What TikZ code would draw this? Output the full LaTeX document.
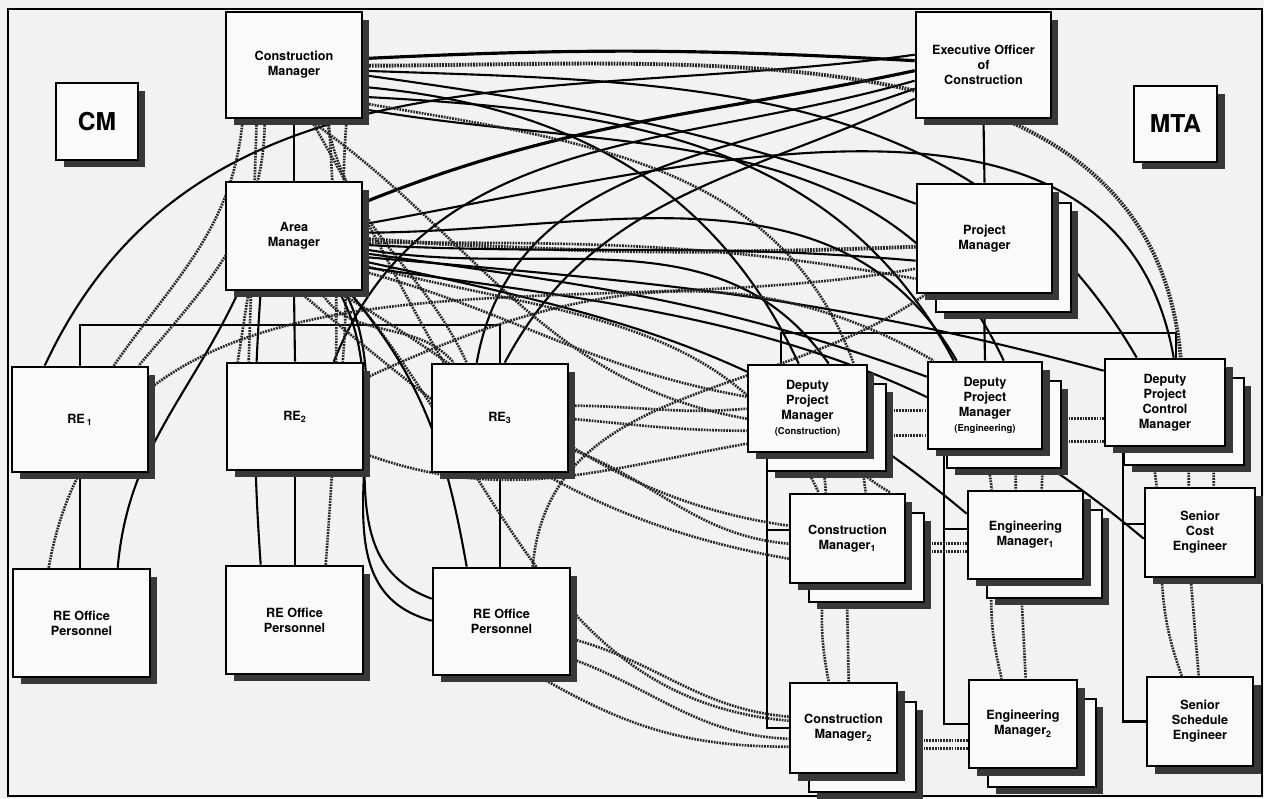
\documentclass[tikz,border=0pt]{standalone}
\usepackage{fontspec}
\setsansfont{TeX Gyre Heros}
\usetikzlibrary{shadows,backgrounds}
\newcommand{\orgfont}{\sffamily\bfseries\fontsize{7.2}{8.6}\selectfont}
\newcommand{\bigorgfont}{\sffamily\bfseries\fontsize{14}{16}\selectfont}
\newcommand{\smallorgfont}{\fontsize{5.4}{7}\selectfont}
\begin{document}
\begin{tikzpicture}[x=0.02cm, y=0.02cm,
    box/.style={draw, line width=1.5pt, fill=black!2, align=center, font=\orgfont, inner sep=1pt,
      drop shadow={shadow xshift=0.15cm, shadow yshift=-0.15cm, fill=black!78, opacity=1}},
    stackbox/.style={draw, line width=1.5pt, fill=black!2, align=center, font=\orgfont, inner sep=1pt,
      drop shadow={shadow xshift=0.53cm, shadow yshift=-0.53cm, fill=black!78, opacity=1},
      copy shadow={shadow xshift=0.38cm, shadow yshift=-0.38cm, draw=black, line width=1.5pt, fill=black!2, opacity=1},
      drop shadow={shadow xshift=0.15cm, shadow yshift=-0.15cm, fill=black!78, opacity=1}},
    tree/.style={line width=1.2pt},
    link/.style={line width=1.2pt},
    dotlink/.style={line width=1.5pt, black!85, dash pattern=on 1pt off 0.6pt}]

    % CM side
    \node[box, font=\bigorgfont, minimum width=1.64cm, minimum height=1.54cm] (cm) at (97,-121.5) {CM};
    \node[box, minimum width=2.72cm, minimum height=2.12cm] (conmgr) at (294,-65) {Construction\\Manager};
    \node[box, minimum width=2.72cm, minimum height=2.16cm] (areamgr) at (294,-236) {Area\\Manager};
    \node[box, minimum width=2.72cm, minimum height=2.10cm] (re1) at (80,-419.5) {RE\,\textsubscript{1}};
    \node[box, minimum width=2.72cm, minimum height=2.14cm] (re2) at (295,-416.5) {RE\textsubscript{2}};
    \node[box, minimum width=2.72cm, minimum height=2.16cm] (re3) at (500,-418) {RE\textsubscript{3}};
    \node[box, minimum width=2.74cm, minimum height=2.16cm] (reop1) at (81.5,-623) {RE Office\\Personnel};
    \node[box, minimum width=2.74cm, minimum height=2.16cm] (reop2) at (294.5,-620) {RE Office\\Personnel};
    \node[box, minimum width=2.74cm, minimum height=2.14cm] (reop3) at (501.5,-621.5) {RE Office\\Personnel};

    % MTA side
    \node[box, minimum width=2.70cm, minimum height=2.12cm] (exec) at (983.5,-65) {Executive Officer\\of\\Construction};
    \node[box, font=\bigorgfont, minimum width=1.66cm, minimum height=1.52cm] (mta) at (1175.5,-124) {MTA};
    \node[stackbox, minimum width=2.70cm, minimum height=2.18cm] (pm) at (984.5,-238.5) {Project\\Manager};
    \node[stackbox, minimum width=2.38cm, minimum height=1.74cm] (dpmc) at (807.5,-408.5) {Deputy\\Project\\Manager\\{\smallorgfont (Construction)}};
    \node[stackbox, minimum width=2.28cm, minimum height=1.74cm] (dpme) at (985,-405.5) {Deputy\\Project\\Manager\\{\smallorgfont (Engineering)}};
    \node[stackbox, minimum width=2.40cm, minimum height=1.74cm] (dpcm) at (1165,-402.5) {Deputy\\Project\\Control\\Manager};
    \node[stackbox, minimum width=2.30cm, minimum height=1.78cm] (cm1) at (847.5,-538.5) {Construction\\Manager\textsubscript{1}};
    \node[stackbox, minimum width=2.14cm, minimum height=1.80cm] (cm2) at (843.5,-728) {Construction\\Manager\textsubscript{2}};
    \node[stackbox, minimum width=2.30cm, minimum height=1.76cm] (em1) at (1025.5,-535) {Engineering\\Manager\textsubscript{1}};
    \node[stackbox, minimum width=2.16cm, minimum height=1.76cm] (em2) at (1023,-724) {Engineering\\Manager\textsubscript{2}};
    \node[box, minimum width=2.20cm, minimum height=1.78cm] (sce) at (1200,-532.5) {Senior\\Cost\\Engineer};
    \node[box, minimum width=2.12cm, minimum height=1.78cm] (sse) at (1200,-721.5) {Senior\\Schedule\\Engineer};

    \coordinate (rebus) at (294,-325);
    \coordinate (dpbus) at (984.5,-333);

    \begin{pgfonlayer}{background}
    \fill[black!5] (0,0) rectangle (1264,-798);
    \draw[line width=1.2pt] (8,-9) rectangle (1262,-796);

    % reporting lines
    \draw[tree] (conmgr.south) -- (areamgr.north);
    \draw[tree] (areamgr.south) -- (re2.north);
    \draw[tree] (re1.north) |- (rebus) -| (re3.north);
    \draw[tree] (re1.south) -- (re1.south |- reop1.north);
    \draw[tree] (re2.south) -- (re2.south |- reop2.north);
    \draw[tree] (re3.south) -- (re3.south |- reop3.north);
    \draw[tree] (exec.south) -- (pm.north);
    \draw[tree] (pm.south) -- (dpbus) -- (dpme.north);
    \draw[tree] ([shift={(34,0)}]dpmc.north west) |- (dpbus) -| ([shift={(72,0)}]dpcm.north west);
    \draw[tree] ([shift={(20,0)}]dpmc.south west) |- (cm2.west);
    \draw[tree] ([shift={(0,-37)}]cm1.north west) -| ([shift={(20,0)}]dpmc.south west);
    \draw[tree] ([shift={(17,0)}]dpme.south west) |- (em2.west);
    \draw[tree] ([shift={(0,-39)}]em1.north west) -| ([shift={(17,0)}]dpme.south west);
    \draw[tree] ([shift={(19,0)}]dpcm.south west) |- (sse.west);
    \draw[tree] ([shift={(0,-37)}]sce.north west) -| ([shift={(19,0)}]dpcm.south west);

    % links to the Executive Officer
    \draw[link] ([shift={(34,0)}]re1.north west) to[out=65,in=188] ([shift={(0,-44)}]exec.north west);
    \draw[link, line width=1.8pt] ([shift={(136,-23)}]areamgr.north west) to[out=22,in=192] ([shift={(0,-60)}]exec.north west);
    \draw[link] ([shift={(108,0)}]re2.north west) to[out=68,in=196] ([shift={(0,-70)}]exec.north west);
    \draw[link] ([shift={(46,0)}]re3.north west) to[out=80,in=200] ([shift={(0,-78)}]exec.north west);
    \draw[link] ([shift={(74,0)}]re3.north west) to[out=62,in=205] ([shift={(0,-88)}]exec.north west);
    \draw[link, line width=1.8pt] ([shift={(136,-48)}]conmgr.north west) to[bend left=3] ([shift={(0,-50)}]exec.north west);

    % links from the Construction Manager
    \draw[link] ([shift={(136,-64)}]conmgr.north west) to[out=-8,in=160] ([shift={(0,-21)}]pm.north west);
    \draw[link] ([shift={(136,-76)}]conmgr.north west) to[out=-5,in=115] ([shift={(52,0)}]dpmc.north west);
    \draw[link] ([shift={(136,-86)}]conmgr.north west) to[out=-3,in=118] ([shift={(27,0)}]dpme.north west);
    \draw[link] ([shift={(136,-98)}]conmgr.north west) to[out=-10,in=115] ([shift={(77,0)}]dpme.north west);
    \draw[link] ([shift={(136,-60)}]conmgr.north west) to[out=-2,in=120] ([shift={(33,0)}]dpcm.north west);
    \draw[dotlink, line width=2.2pt] ([shift={(136,-55)}]conmgr.north west) to[out=0,in=95] ([shift={(77,0)}]dpcm.north west);
    \draw[dotlink] ([shift={(136,-92)}]conmgr.north west) to[out=-10,in=110] ([shift={(107,0)}]dpmc.north west);
    \draw[dotlink] ([shift={(18,0)}]conmgr.south west) to[out=-95,in=55] ([shift={(103,0)}]re1.north west);
    \draw[dotlink] ([shift={(32,0)}]conmgr.south west) -- ([shift={(23,0)}]re2.north west);
    \draw[dotlink] ([shift={(40,0)}]conmgr.south west) to[out=-90,in=50] ([shift={(128,0)}]re1.north west);
    \draw[dotlink] ([shift={(86,0)}]conmgr.south west) to[out=-60,in=120] ([shift={(13,0)}]re3.north west);
    \draw[dotlink] ([shift={(102,0)}]conmgr.south west) to[out=-80,in=115] ([shift={(36,0)}]re3.north west);
    \draw[dotlink] ([shift={(122,0)}]conmgr.south west) to[out=-95,in=85] ([shift={(117,0)}]re2.north west);
    \draw[dotlink] ([shift={(84,0)}]conmgr.south west) to[out=-35,in=170] ([shift={(0,-55)}]dpmc.north west);

    % links from the Area Manager
    \draw[dotlink, line width=2.2pt] ([shift={(136,-58)}]areamgr.north west) to[bend right=3] ([shift={(0,-64)}]pm.north west);
    \draw[link] ([shift={(136,-64)}]areamgr.north west) to[out=-3,in=175] ([shift={(0,-78)}]pm.north west);
    \draw[link] ([shift={(136,-68)}]areamgr.north west) to[out=-10,in=125] ([shift={(82,0)}]dpmc.north west);
    \draw[link] ([shift={(136,-72)}]areamgr.north west) to[out=-8,in=160] ([shift={(0,-16)}]dpme.north west);
    \draw[link] ([shift={(136,-76)}]areamgr.north west) to[out=-5,in=165] ([shift={(0,-13)}]dpcm.north west);
    \draw[dotlink] ([shift={(136,-84)}]areamgr.north west) to[out=-15,in=115] ([shift={(30,0)}]cm1.north west);
    \draw[dotlink] ([shift={(136,-62)}]areamgr.north west) to[out=0,in=170] ([shift={(0,-96)}]pm.north west);
    \draw[dotlink] ([shift={(136,-90)}]areamgr.north west) to[out=-15,in=170] ([shift={(0,-33)}]dpmc.north west);
    \draw[link] ([shift={(136,-44)}]areamgr.north west) to[out=10,in=100] ([shift={(70,0)}]dpcm.north west);
    \draw[link] ([shift={(136,-80)}]areamgr.north west) to[out=-12,in=140] ([shift={(0,-24)}]em1.north west);
    \draw[link] ([shift={(136,-86)}]areamgr.north west) to[out=-8,in=140] ([shift={(0,-52)}]sce.north west);
    \draw[link] ([shift={(136,-52)}]areamgr.north west) to[out=0,in=120] ([shift={(30,0)}]dpme.north west);
    \draw[dotlink] ([shift={(24,0)}]areamgr.south west) -- ([shift={(12,0)}]re2.north west);
    \draw[dotlink] ([shift={(96,0)}]areamgr.south west) to[out=-60,in=130] ([shift={(23,0)}]re3.north west);
    \draw[dotlink] ([shift={(124,0)}]areamgr.south west) to[out=-50,in=175] ([shift={(0,-39)}]cm2.north west);
    \draw[link] ([shift={(114,0)}]areamgr.south west) to[out=-60,in=160] ([shift={(0,-32)}]reop3.north west);
    \draw[link] ([shift={(120,0)}]areamgr.south west) to[out=-62,in=165] ([shift={(0,-54)}]reop3.north west);
    \draw[dotlink] ([shift={(74,0)}]areamgr.south west) to[out=-40,in=170] ([shift={(0,-66)}]cm1.north west);
    \draw[dotlink] ([shift={(112,0)}]areamgr.south west) to[out=-30,in=172] ([shift={(0,-33)}]cm1.north west);

    % links from the field offices
    \draw[dotlink] ([shift={(0,-43)}]re3.north east) to[out=0,in=185] ([shift={(0,-45)}]dpmc.north west);
    \draw[dotlink] ([shift={(0,-56)}]re3.north east) to[out=-5,in=180] ([shift={(0,-67)}]dpmc.north west);
    \draw[dotlink] ([shift={(0,-86)}]re3.north east) to[out=-20,in=175] ([shift={(0,-51)}]cm1.north west);
    \draw[dotlink] ([shift={(0,-72)}]reop3.north east) to[out=-15,in=175] ([shift={(0,-35)}]cm2.north west);
    \draw[dotlink] ([shift={(0,-92)}]reop3.north east) to[out=-20,in=178] ([shift={(0,-57)}]cm2.north west);
    \draw[dotlink] ([shift={(0,-92)}]re2.north east) to[out=-20,in=190] ([shift={(0,-80)}]dpmc.north west);
    \draw[dotlink] ([shift={(107,0)}]reop3.south west) to[out=-30,in=180] ([shift={(0,-65)}]cm2.north west);
    \draw[dotlink] ([shift={(0,-17)}]re2.north east) to[out=25,in=150] ([shift={(7,0)}]dpme.north west);
    \draw[link] ([shift={(106,0)}]reop1.north west) to[out=85,in=245] ([shift={(14,0)}]areamgr.south west);
    \draw[dotlink] ([shift={(37,0)}]reop1.north west) to[out=80,in=190] ([shift={(0,-86)}]pm.north west);
    \draw[link] ([shift={(36,0)}]reop2.north west) to[bend left=4] ([shift={(36,0)}]areamgr.south west);
    \draw[dotlink] ([shift={(101,0)}]reop2.north west) to[bend right=4] ([shift={(104,0)}]conmgr.south west);
    \draw[link] ([shift={(35,0)}]reop3.north west) to[out=100,in=-50] ([shift={(124,0)}]areamgr.south west);
    \draw[dotlink] ([shift={(101,0)}]reop3.north west) to[out=85,in=215] ([shift={(10,0)}]pm.south west);

    % links among the MTA staff
    \draw[dotlink] ([shift={(0,-47)}]dpmc.north east) -- ([shift={(0,-50)}]dpme.north west);
    \draw[dotlink] ([shift={(0,-72)}]dpmc.north east) -- ([shift={(0,-75)}]dpme.north west);
    \draw[dotlink] ([shift={(0,-58)}]dpme.north east) -- ([shift={(0,-61)}]dpcm.north west);
    \draw[dotlink] ([shift={(0,-81)}]dpme.north east) -- ([shift={(0,-84)}]dpcm.north west);
    \draw[dotlink] ([shift={(0,-51)}]cm1.north east) -- ([shift={(0,-54)}]em1.north west);
    \draw[dotlink] ([shift={(0,-59)}]cm1.north east) -- ([shift={(0,-62)}]em1.north west);
    \draw[dotlink] ([shift={(0,-59)}]cm2.north east) -- ([shift={(0,-62)}]em2.north west);
    \draw[dotlink] ([shift={(0,-67)}]cm2.north east) -- ([shift={(0,-70)}]em2.north west);
    \draw[dotlink] ([shift={(72,0)}]dpmc.south west) to[bend left=8] ([shift={(37,0)}]cm1.north west);
    \draw[dotlink] ([shift={(114,0)}]dpmc.south west) -- ([shift={(77,0)}]cm1.north west);
    \draw[dotlink] ([shift={(97,0)}]dpmc.south west) to[bend right=10] ([shift={(102,0)}]cm1.north west);
    \draw[dotlink] ([shift={(35,0)}]cm1.south west) to[bend right=8] ([shift={(40,0)}]cm2.north west);
    \draw[dotlink] ([shift={(58,0)}]cm1.south west) -- ([shift={(60,0)}]cm2.north west);
    \draw[dotlink] ([shift={(25,0)}]em1.south west) to[bend right=8] ([shift={(34,0)}]em2.north west);
    \draw[dotlink] ([shift={(54,0)}]em1.south west) -- ([shift={(58,0)}]em2.north west);
    \draw[dotlink] ([shift={(18,0)}]sce.south west) to[bend right=8] ([shift={(36,0)}]sse.north west);
    \draw[dotlink] ([shift={(47,0)}]sce.south west) -- ([shift={(53,0)}]sse.north west);
    \draw[dotlink] ([shift={(57,0)}]dpme.south west) to[bend left=6] ([shift={(25,0)}]em1.north west);
    \draw[dotlink] ([shift={(89,0)}]dpme.south west) -- ([shift={(49,0)}]em1.north west);
    \draw[dotlink] (dpme.south east) -- ([shift={(75,0)}]em1.north west);
    \draw[dotlink] ([shift={(48,0)}]dpcm.south west) -- ([shift={(13,0)}]sce.north west);
    \draw[dotlink] ([shift={(85,0)}]dpcm.south west) -- ([shift={(45,0)}]sce.north west);
    \draw[dotlink] ([shift={(110,0)}]dpcm.south west) -- ([shift={(70,0)}]sce.north west);
    \end{pgfonlayer}
\end{tikzpicture}
\end{document}
